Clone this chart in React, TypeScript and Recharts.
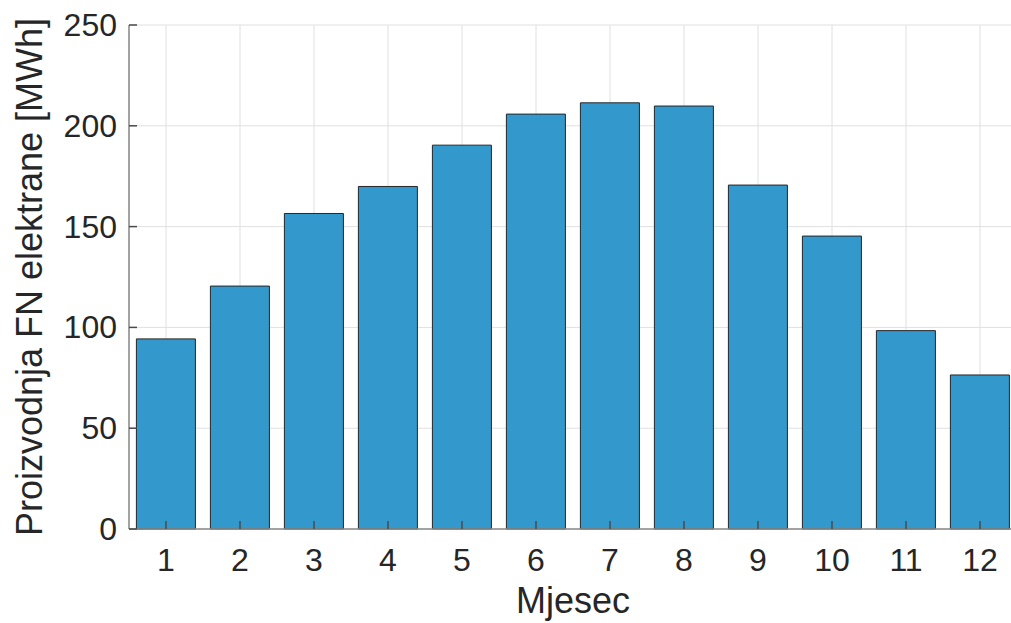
import { Bar, BarChart, CartesianGrid, XAxis, YAxis } from "recharts";

const mjeseci = ["1", "2", "3", "4", "5", "6", "7", "8", "9", "10", "11", "12"];
const proizvodnja = [94.3, 120.5, 156.5, 169.9, 190.4, 205.8, 211.4, 209.8, 170.6, 145.3, 98.4, 76.4];
const yTicks = [0, 50, 100, 150, 200, 250];

const data = mjeseci.map((m, i) => ({ mjesec: m, proizvodnja: proizvodnja[i] }));

const FONT = '"Liberation Sans", Arial, Helvetica, sans-serif';
const TEXT = "#262626";
const FRAME = "#8a8a8a";
const TICK = "#4a4a4a";
const TICK_LEN = 8;

function BottomTick({ x, y, payload }: any) {
  return (
    <g>
      <line x1={x} y1={y} x2={x} y2={y - TICK_LEN} stroke={TICK} strokeWidth={1.5} />
      <text x={x} y={y + 42} textAnchor="middle" fill={TEXT} fontSize={32} fontFamily={FONT}>
        {payload.value}
      </text>
    </g>
  );
}

function TopTick({ x, y }: any) {
  return <line x1={x} y1={y} x2={x} y2={y + TICK_LEN} stroke={TICK} strokeWidth={1.5} />;
}

function LeftTick({ x, y, payload }: any) {
  return (
    <g>
      <line x1={x} y1={y} x2={x + TICK_LEN} y2={y} stroke={TICK} strokeWidth={1.5} />
      <text x={x - 12} y={y + 11} textAnchor="end" fill={TEXT} fontSize={32} fontFamily={FONT}>
        {payload.value}
      </text>
    </g>
  );
}

function RightTick({ x, y }: any) {
  return <line x1={x} y1={y} x2={x - TICK_LEN} y2={y} stroke={TICK} strokeWidth={1.5} />;
}

function YLabel({ viewBox }: any) {
  const cx = viewBox.x + 42;
  const cy = viewBox.y + viewBox.height / 2;
  return (
    <text
      x={cx}
      y={cy}
      transform={`rotate(-90, ${cx}, ${cy})`}
      textAnchor="middle"
      fill={TEXT}
      fontSize={36}
      fontFamily={FONT}
    >
      Proizvodnja FN elektrane [MWh]
    </text>
  );
}

function XLabel({ viewBox }: any) {
  return (
    <text
      x={viewBox.x + viewBox.width / 2}
      y={viewBox.y + 84}
      textAnchor="middle"
      fill={TEXT}
      fontSize={36}
      fontFamily={FONT}
    >
      Mjesec
    </text>
  );
}

export default function App() {
  return (
    <div
      style={{
        position: "fixed",
        left: 0,
        top: 0,
        width: 1011,
        height: 623,
        overflow: "hidden",
        background: "#ffffff",
      }}
    >
      <BarChart
        width={1030}
        height={623}
        data={data}
        margin={{ top: 25, right: 13, left: 0, bottom: 0 }}
        barCategoryGap="10%"
      >
        <CartesianGrid stroke="#e0e0e0" strokeWidth={1} />
        <Bar
          dataKey="proizvodnja"
          fill="#3399cc"
          stroke="#262626"
          strokeWidth={1}
          isAnimationActive={false}
        />
        <XAxis
          dataKey="mjesec"
          height={94}
          tickSize={0}
          tickMargin={0}
          tickLine={false}
          axisLine={{ stroke: FRAME, strokeWidth: 1.5 }}
          tick={<BottomTick />}
          interval={0}
          label={<XLabel />}
        />
        <XAxis
          xAxisId="top"
          orientation="top"
          dataKey="mjesec"
          height={0}
          tickSize={0}
          tickMargin={0}
          tickLine={false}
          axisLine={{ stroke: FRAME, strokeWidth: 1.5 }}
          tick={<TopTick />}
          interval={0}
        />
        <YAxis
          width={129}
          domain={[0, 250]}
          ticks={yTicks}
          tickSize={0}
          tickMargin={0}
          tickLine={false}
          axisLine={{ stroke: FRAME, strokeWidth: 1.5 }}
          tick={<LeftTick />}
          interval={0}
          label={<YLabel />}
        />
        <YAxis
          yAxisId="right"
          orientation="right"
          width={0}
          domain={[0, 250]}
          ticks={yTicks}
          tickSize={0}
          tickMargin={0}
          tickLine={false}
          axisLine={{ stroke: FRAME, strokeWidth: 1.5 }}
          tick={<RightTick />}
          interval={0}
        />
      </BarChart>
    </div>
  );
}
